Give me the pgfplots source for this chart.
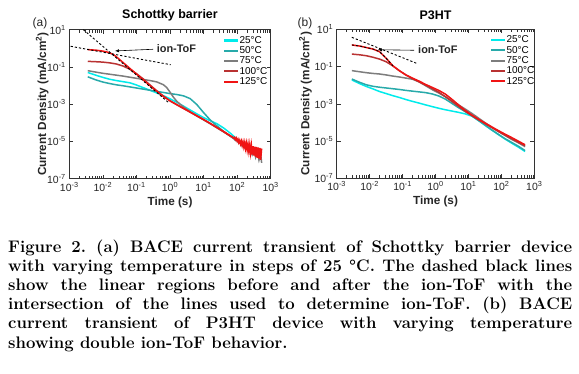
\documentclass[border=0pt]{standalone}
\usepackage{fontspec}
\setsansfont{Liberation Sans}
\usepackage{pgfplots}
\pgfplotsset{compat=1.18}
\usetikzlibrary{arrows.meta}
\definecolor{c25}{RGB}{0,235,235}
\definecolor{c50}{RGB}{40,170,170}
\definecolor{c75}{RGB}{125,125,125}
\definecolor{c100}{RGB}{185,50,50}
\definecolor{c125}{RGB}{240,20,20}
\pgfplotsset{
  legend image code/.code={\draw[#1, line width=2.2bp] (0bp,0bp) -- (14bp,0bp);},
  every axis plot/.append style={line width=1.5bp},
}
\tikzset{dashln/.style={black, line width=0.9bp, dash pattern=on 2.2bp off 2bp}}
\begin{document}
\begin{tikzpicture}[x=1bp,y=1bp]
\useasboundingbox (0,0) rectangle (579,373);
% ---------------- panel (a)
\begin{axis}[at={(69.3bp,194.3bp)}, anchor=south west, width=201.4bp, height=149bp,
    scale only axis, xmode=log, ymode=log,
    xmin=1e-3, xmax=1e3, ymin=1e-7, ymax=1e1,
    xtick={1e-3,1e-2,1e-1,1,1e1,1e2,1e3},
    xticklabels={10\textsuperscript{-3},10\textsuperscript{-2},10\textsuperscript{-1},10\textsuperscript{0},10\textsuperscript{1},10\textsuperscript{2},10\textsuperscript{3}},
    ytick={1e-7,1e-5,1e-3,1e-1,1e1},
    yticklabels={10\textsuperscript{-7},10\textsuperscript{-5},10\textsuperscript{-3},10\textsuperscript{-1},10\textsuperscript{1}},
    minor tick num=0,
    tick align=inside, major tick length=4bp,
    axis line style={line width=0.7bp, black!80},
    tick style={line width=0.6bp, black!80},
    ticklabel style={font=\fontsize{10.5}{12}\selectfont\sffamily, text=black!85},
    xlabel={Time (s)},
    ylabel={Current Density (mA/cm\textsuperscript{2})},
    label style={font=\fontsize{11.8}{13}\selectfont\sffamily\bfseries, text=black!85},
    xlabel style={at={(axis description cs:0.5,-0.158)}, anchor=center},
    title style={at={(axis description cs:0.5,1.054)}, anchor=center, yshift=0pt, font=\fontsize{12.5}{14}\selectfont\sffamily\bfseries},
    legend style={draw=none, fill=none, anchor=north west, font=\fontsize{10}{11}\selectfont\sffamily, inner sep=0pt, row sep=0bp, nodes={inner sep=0.15bp, text height=7.8bp, text depth=2.2bp}},
    legend cell align=left,
  title={Schottky barrier},
  ylabel style={at={(axis description cs:-0.1343,0.5)}, anchor=center},
  legend style={at={(0.763,0.964)}}]
\addplot[c25] coordinates {(3.548e-3,5.012e-2) (6.310e-3,3.548e-2) (1e-2,2.754e-2) (1.585e-2,2.188e-2) (2.512e-2,1.862e-2) (3.981e-2,1.622e-2) (6.310e-2,1.413e-2) (0.1,1.072e-2) (0.1585,7.762e-3) (0.2512,5.623e-3) (0.3981,4.074e-3) (0.6310,2.884e-3) (1,1.950e-3) (1.585,1.259e-3) (2.512,7.943e-4) (3.981,4.898e-4) (6.310,3.020e-4) (10,1.905e-4) (15.85,1.288e-4) (25.12,8.913e-5) (39.81,5.248e-5) (63.10,2.754e-5) (79.43,1.905e-5) (100,1.259e-5) (158.5,7.413e-6) (251.2,4.169e-6) (398.1,2.512e-6) (501.2,1.995e-6)};
\addlegendentry{25°C}
\addplot[c50] coordinates {(3.548e-3,2.951e-2) (6.310e-3,1.995e-2) (1e-2,1.549e-2) (1.585e-2,1.288e-2) (2.512e-2,1.096e-2) (3.981e-2,9.772e-3) (6.310e-2,8.511e-3) (0.1,7.413e-3) (0.1585,6.457e-3) (0.2512,5.623e-3) (0.3981,4.898e-3) (0.6310,4.266e-3) (1,3.715e-3) (1.585,3.311e-3) (2.512,2.818e-3) (3.981,1.995e-3) (6.310,9.550e-4) (10,3.548e-4) (15.85,1.413e-4) (25.12,6.761e-5) (39.81,3.467e-5) (63.10,1.905e-5) (100,1.122e-5) (158.5,6.761e-6) (251.2,3.981e-6) (398.1,2.399e-6) (501.2,1.905e-6)};
\addlegendentry{50°C}
\addplot[c75] coordinates {(3.548e-3,6.310e-2) (6.310e-3,5.248e-2) (1e-2,4.571e-2) (1.585e-2,4.074e-2) (2.512e-2,3.631e-2) (3.981e-2,3.236e-2) (6.310e-2,2.818e-2) (0.1,2.455e-2) (0.1585,2.138e-2) (0.2512,1.862e-2) (0.3981,1.585e-2) (0.6310,1.122e-2) (0.7943,7.943e-3) (1,4.467e-3) (1.259,2.399e-3) (1.585,1.445e-3) (1.995,1.0e-3) (2.512,7.244e-4) (3.981,3.981e-4) (6.310,2.344e-4) (10,1.445e-4) (15.85,8.913e-5) (25.12,5.370e-5) (39.81,3.236e-5) (63.10,1.905e-5) (79.43,1.413e-5) (89.13,1.122e-5) (100,1.096e-5) (112.2,7.943e-6) (125.9,8.913e-6) (141.3,5.623e-6) (158.5,7.079e-6) (177.8,3.981e-6) (199.5,5.623e-6) (223.9,2.818e-6) (251.2,4.467e-6) (281.8,1.995e-6) (316.2,3.548e-6) (354.8,1.413e-6) (398.1,2.818e-6) (446.7,1.0e-6) (501.2,2.239e-6) (537.0,7.079e-7)};
\addlegendentry{75°C}
\addplot[c100] coordinates {(3.548e-3,0.1995) (6.310e-3,0.1905) (1e-2,0.1820) (1.585e-2,0.1660) (2.512e-2,0.1445) (3.981e-2,0.1122) (6.310e-2,7.586e-2) (0.1,4.365e-2) (0.1585,2.291e-2) (0.2512,1.096e-2) (0.3981,5.370e-3) (0.6310,2.754e-3) (1,1.514e-3) (1.585,9.333e-4) (2.512,5.888e-4) (3.981,3.715e-4) (6.310,2.344e-4) (10,1.479e-4) (15.85,9.120e-5) (25.12,5.495e-5) (39.81,3.311e-5) (63.10,1.950e-5) (100,1.122e-5) (158.5,6.607e-6) (251.2,3.802e-6) (398.1,2.239e-6) (501.2,1.778e-6)};
\addlegendentry{100°C}
\addplot[c125] coordinates {(3.548e-3,0.8511) (6.310e-3,0.7943) (1e-2,0.7079) (1.413e-2,0.6166) (1.995e-2,0.4786) (2.512e-2,0.3548) (3.981e-2,0.1738) (6.310e-2,8.511e-2) (0.1,4.169e-2) (0.1585,2.042e-2) (0.2512,1.0e-2) (0.3981,5.012e-3) (0.6310,2.630e-3) (1,1.514e-3) (1.585,9.550e-4) (2.512,6.026e-4) (3.981,3.802e-4) (6.310,2.399e-4) (10,1.514e-4) (15.85,9.333e-5) (25.12,5.623e-5) (39.81,3.388e-5) (63.10,1.995e-5) (70.79,1.820e-5) (79.43,1.514e-5) (84.14,1.660e-5) (89.13,1.259e-5) (94.41,1.514e-5) (100,1.047e-5) (105.9,1.318e-5) (112.2,8.710e-6) (118.9,1.148e-5) (125.9,7.244e-6) (133.4,1.047e-5) (141.3,6.026e-6) (149.6,9.550e-6) (158.5,5.012e-6) (167.9,8.710e-6) (177.8,4.169e-6) (188.4,7.943e-6) (199.5,3.467e-6) (211.3,7.244e-6) (223.9,2.884e-6) (237.1,6.607e-6) (251.2,2.399e-6) (266.1,6.026e-6) (281.8,1.995e-6) (298.5,5.623e-6) (316.2,1.738e-6) (335.0,5.248e-6) (354.8,1.514e-6) (375.8,5.012e-6) (398.1,1.318e-6) (421.7,4.786e-6) (446.7,1.202e-6) (473.2,4.467e-6) (501.2,1.047e-6) (537.0,4.169e-6)};
\addlegendentry{125°C}
\addplot[dashln, forget plot] coordinates {(2.630e-3,10) (0.8913,1.259e-3)};
\addplot[dashln, forget plot] coordinates {(1.096e-3,1.288) (1.047,0.1318)};
\draw[-{Latex[length=4bp,width=3.2bp]}, line width=0.6bp, black] (axis cs:0.316,0.891) -- (axis cs:0.0229,0.724);
\node[anchor=west, inner sep=0pt, font=\fontsize{11}{12}\selectfont\sffamily\bfseries, text=black!85] at (axis cs:0.398,1.0) {ion-ToF};
\end{axis}
% ---------------- panel (b)
\begin{axis}[at={(336.7bp,194.7bp)}, anchor=south west, width=197.6bp, height=149bp,
    scale only axis, xmode=log, ymode=log,
    xmin=1e-3, xmax=1e3, ymin=1e-7, ymax=1e1,
    xtick={1e-3,1e-2,1e-1,1,1e1,1e2,1e3},
    xticklabels={10\textsuperscript{-3},10\textsuperscript{-2},10\textsuperscript{-1},10\textsuperscript{0},10\textsuperscript{1},10\textsuperscript{2},10\textsuperscript{3}},
    ytick={1e-7,1e-5,1e-3,1e-1,1e1},
    yticklabels={10\textsuperscript{-7},10\textsuperscript{-5},10\textsuperscript{-3},10\textsuperscript{-1},10\textsuperscript{1}},
    minor tick num=0,
    tick align=inside, major tick length=4bp,
    axis line style={line width=0.7bp, black!80},
    tick style={line width=0.6bp, black!80},
    ticklabel style={font=\fontsize{10.5}{12}\selectfont\sffamily, text=black!85},
    xlabel={Time (s)},
    ylabel={Current Density (mA/cm\textsuperscript{2})},
    label style={font=\fontsize{11.8}{13}\selectfont\sffamily\bfseries, text=black!85},
    xlabel style={at={(axis description cs:0.5,-0.158)}, anchor=center},
    title style={at={(axis description cs:0.5,1.054)}, anchor=center, yshift=0pt, font=\fontsize{12.5}{14}\selectfont\sffamily\bfseries},
    legend style={draw=none, fill=none, anchor=north west, font=\fontsize{10}{11}\selectfont\sffamily, inner sep=0pt, row sep=0bp, nodes={inner sep=0.15bp, text height=7.8bp, text depth=2.2bp}},
    legend cell align=left,
  title={P3HT},
  ylabel style={at={(axis description cs:-0.158,0.5)}, anchor=center},
  legend style={at={(0.776,0.964)}}]
\addplot[c25] coordinates {(2.884e-3,1.905e-2) (5.012e-3,1.202e-2) (7.943e-3,8.511e-3) (1.259e-2,6.310e-3) (1.995e-2,4.571e-3) (3.162e-2,3.548e-3) (5.012e-2,2.754e-3) (7.943e-2,2.188e-3) (0.1259,1.698e-3) (0.1995,1.349e-3) (0.3162,1.096e-3) (0.5012,8.710e-4) (0.7943,7.079e-4) (1.259,5.754e-4) (1.995,4.786e-4) (3.162,4.074e-4) (5.012,3.467e-4) (7.943,2.884e-4) (12.59,2.188e-4) (19.95,1.288e-4) (31.62,7.079e-5) (50.12,3.981e-5) (79.43,2.291e-5) (125.9,1.318e-5) (199.5,7.943e-6) (316.2,4.898e-6) (524.8,2.754e-6)};
\addlegendentry{25°C}
\addplot[c50] coordinates {(2.884e-3,2.138e-2) (5.012e-3,1.413e-2) (7.943e-3,1.047e-2) (1.259e-2,8.710e-3) (1.995e-2,7.762e-3) (3.162e-2,7.079e-3) (5.012e-2,6.457e-3) (7.943e-2,5.888e-3) (0.1259,5.248e-3) (0.1995,4.786e-3) (0.3162,4.365e-3) (0.5012,3.981e-3) (0.7943,3.388e-3) (1.259,2.630e-3) (1.995,1.778e-3) (3.162,1.047e-3) (5.012,6.166e-4) (7.943,3.802e-4) (12.59,2.291e-4) (19.95,1.288e-4) (31.62,7.244e-5) (50.12,4.074e-5) (79.43,2.344e-5) (125.9,1.380e-5) (199.5,8.710e-6) (316.2,5.495e-6) (524.8,3.090e-6)};
\addlegendentry{50°C}
\addplot[c75] coordinates {(2.884e-3,6.026e-2) (5.012e-3,5.248e-2) (7.943e-3,4.677e-2) (1.259e-2,4.266e-2) (1.995e-2,3.981e-2) (3.162e-2,3.548e-2) (5.012e-2,3.090e-2) (7.943e-2,2.754e-2) (0.1259,2.399e-2) (0.1995,2.089e-2) (0.3162,1.514e-2) (0.5012,9.333e-3) (0.7943,5.754e-3) (1.259,3.802e-3) (1.995,2.399e-3) (3.162,1.445e-3) (5.012,8.710e-4) (7.943,5.248e-4) (12.59,3.090e-4) (19.95,1.738e-4) (31.62,9.772e-5) (50.12,5.623e-5) (79.43,3.311e-5) (125.9,2.042e-5) (199.5,1.259e-5) (316.2,8.318e-6) (524.8,5.012e-6)};
\addlegendentry{75°C}
\addplot[c100] coordinates {(2.884e-3,0.4677) (5.012e-3,0.4266) (7.943e-3,0.3802) (1.259e-2,0.3162) (1.995e-2,0.2512) (3.162e-2,0.1820) (5.012e-2,0.1096) (7.943e-2,6.026e-2) (0.1259,3.548e-2) (0.1995,2.239e-2) (0.3162,1.514e-2) (0.5012,1.0e-2) (0.7943,6.607e-3) (1.259,4.169e-3) (1.995,2.399e-3) (3.162,1.318e-3) (5.012,7.244e-4) (7.943,3.981e-4) (12.59,2.344e-4) (19.95,1.413e-4) (31.62,8.710e-5) (50.12,5.370e-5) (79.43,3.388e-5) (125.9,2.138e-5) (199.5,1.380e-5) (316.2,8.913e-6) (524.8,5.623e-6)};
\addlegendentry{100°C}
\addplot[c125] coordinates {(2.884e-3,1.445) (5.012e-3,1.259) (7.943e-3,1.047) (1.259e-2,0.8710) (1.995e-2,0.6310) (3.162e-2,0.2818) (5.012e-2,0.1122) (7.943e-2,6.026e-2) (0.1259,3.548e-2) (0.1995,2.399e-2) (0.3162,1.660e-2) (0.5012,1.096e-2) (0.7943,7.586e-3) (1.259,5.248e-3) (1.995,3.311e-3) (3.162,1.738e-3) (5.012,8.710e-4) (7.943,4.467e-4) (12.59,2.512e-4) (19.95,1.514e-4) (31.62,9.333e-5) (50.12,5.888e-5) (79.43,3.715e-5) (125.9,2.399e-5) (199.5,1.585e-5) (316.2,1.023e-5) (524.8,6.310e-6)};
\addlegendentry{125°C}
\addplot[dashln, forget plot] coordinates {(2.884e-3,3.715) (0.269,0.148)};
\addplot[dashln, forget plot] coordinates {(2.884e-3,1.445) (5.012e-3,1.259) (7.943e-3,1.047) (1.259e-2,0.8710) (1.995e-2,0.6310) (3.162e-2,0.2818) (5.012e-2,0.1122)};
\draw[-{Latex[length=4bp,width=3.2bp]}, line width=0.6bp, black] (axis cs:0.2239,0.75) -- (axis cs:0.0178,0.80);
\node[anchor=west, inner sep=0pt, font=\fontsize{11}{12}\selectfont\sffamily\bfseries, text=black!85] at (axis cs:0.295,0.78) {ion-ToF};
\end{axis}
% panel letters
\node[font=\fontsize{12}{14}\selectfont\sffamily, text=black!85] at (40,350) {(a)};
\node[font=\fontsize{12}{14}\selectfont\sffamily, text=black!85] at (305,350) {(b)};
% caption
\node[anchor=base west, inner sep=0pt] at (8,121) {\parbox[t]{564bp}{\fontsize{16.8}{19.3}\selectfont\bfseries\frenchspacing
\makebox[564bp][s]{Figure 2. (a) BACE current transient of Schottky barrier device}\\
\makebox[564bp][s]{with varying temperature in steps of 25 °C. The dashed black lines}\\
\makebox[564bp][s]{show the linear regions before and after the ion-ToF with the}\\
\makebox[564bp][s]{intersection of the lines used to determine ion-ToF. (b) BACE}\\
\makebox[564bp][s]{current transient of P3HT device with varying temperature}\\
showing double ion-ToF behavior.}};
\end{tikzpicture}
\end{document}
